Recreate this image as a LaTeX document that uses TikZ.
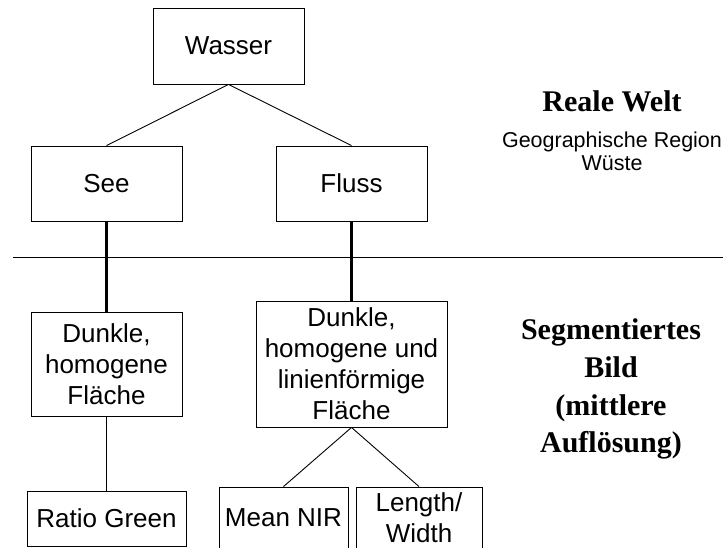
\documentclass[tikz,border=0pt]{standalone}
\usepackage{fontspec}
\setmainfont{Liberation Sans}
\newfontfamily\levelfont{Liberation Serif}

\begin{document}
\begin{tikzpicture}[
  x=1pt, y=-1pt,
  box/.style={draw, line width=0.9pt, align=center, inner sep=0pt,
              font=\fontsize{26}{31}\selectfont},
  level/.style={align=center, inner sep=0pt,
                font=\levelfont\bfseries\fontsize{30}{37.7}\selectfont},
  note/.style={align=center, inner sep=0pt, font=\fontsize{21.5}{23}\selectfont},
  link/.style={line width=0.9pt},
  trunk/.style={line width=2.4pt}
]
  \path[use as bounding box, clip] (0,0) rectangle (723,547);

  \node[box, minimum width=151pt, minimum height=76pt] (wasser) at (228.5,46) {Wasser};
  \node[box, minimum width=151pt, minimum height=75pt] (see) at (106.5,183.5) {See};
  \node[box, minimum width=151pt, minimum height=75pt] (fluss) at (351.5,183.5) {Fluss};
  \draw[link] (wasser.south) -- (see.north);
  \draw[link] (wasser.south) -- (fluss.north);

  \coordinate (sepL) at (13,257);
  \coordinate (sepR) at (723,257);
  \draw[link] (sepL) -- (sepR);

  \node[box, minimum width=151pt, minimum height=104pt] (flaecheA) at (106.5,364)
    {Dunkle,\\homogene\\Fläche};
  \node[box, minimum width=191pt, minimum height=126pt] (flaecheB) at (351.5,364)
    {Dunkle,\\homogene und\\linienförmige\\Fläche};
  \draw[trunk] (see.south) -- (flaecheA.north);
  \draw[trunk] (fluss.south) -- (flaecheB.north);

  \node[box, minimum width=159pt, minimum height=55pt] (ratio) at (106.5,518.5) {Ratio Green};
  \node[box, minimum width=129pt, minimum height=62pt] (nir) at (283.5,518) {Mean NIR};
  \node[box, minimum width=126pt, minimum height=62pt] (length) at (419,518) {Length/\\Width};
  \draw[link] (flaecheA.south) -- (ratio.north);
  \draw[link] (flaecheB.south) -- (nir.north);
  \draw[link] (flaecheB.south) -- (length.north);

  \node[level] (real) at (612,101.8) {Reale Welt};
  \node[note] (region) at (612,151) {Geographische Region\\Wüste};
  \node[level] (segment) at (611,389.3)
    {Segmentiertes\\Bild\\(mittlere\\Auflösung)};
\end{tikzpicture}
\end{document}
